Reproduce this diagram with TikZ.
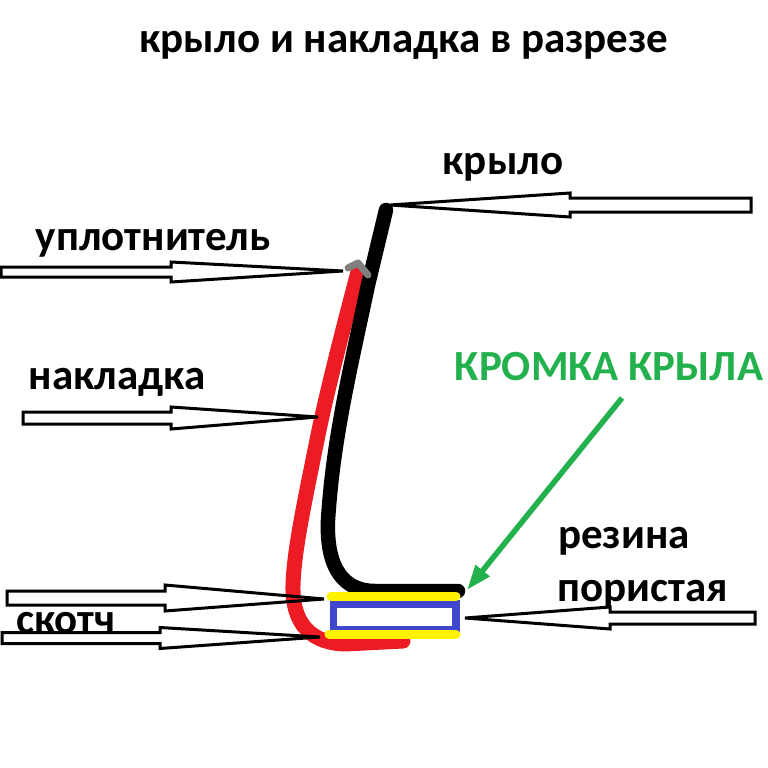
\documentclass[tikz,border=0pt]{standalone}
\usepackage{fontspec}
\setmainfont{Carlito}
\usepackage{xcolor}
\usetikzlibrary{arrows.meta}
\definecolor{wingcolor}{RGB}{0, 0, 0}
\definecolor{padcolor}{RGB}{237, 28, 36}
\definecolor{sealcolor}{RGB}{127, 127, 127}
\definecolor{tapecolor}{RGB}{255, 242, 0}
\definecolor{foamcolor}{RGB}{63, 72, 204}
\definecolor{edgecolor}{RGB}{34, 177, 76}

\begin{document}
\begin{tikzpicture}[
    x=1pt, y=-1pt,
    brush/.style={line width=#1, line cap=round, line join=round},
    label/.style={font=\bfseries\fontsize{43}{48}\selectfont, inner sep=0pt, anchor=center},
    pointer/.style={draw=black, line width=3pt, line join=miter},
]
    \useasboundingbox (0,0) rectangle (768,768);
    % Title
    \node[label] (title) at (404,45) {крыло и накладка в разрезе};
    % Part names
    \node[label] (wing) at (503,167) {крыло};
    \node[label] (seal) at (153,243) {уплотнитель};
    \node[label] (pad) at (117,382) {накладка};
    \node[label] (foam1) at (624,541) {резина};
    \node[label] (foam2) at (643,594) {пористая};
    \node[label] (tape) at (66,623) {скотч};
    \node[label, text=edgecolor] (edge) at (609,367) {КРОМКА КРЫЛА};
    % Pad and wing section
    \draw[brush=15pt, padcolor] (358,272) .. controls (340,340) and (325,400) .. (317,440)
        .. controls (305,500) and (294,550) .. (293,585)
        .. controls (292,625) and (312,643) .. (345,644) -- (403,641);
    \draw[brush=14.5pt, wingcolor] (386,210) -- (368,285) .. controls (350,370) and (333,440) .. (328,520)
        .. controls (326,570) and (345,591) .. (375,591) -- (458,591);
    \draw[brush=7pt, sealcolor] (348,268) -- (358,263) -- (368,275);
    % Foam rubber and tape
    \draw[foamcolor, line width=7.5pt] (333.5,604) rectangle (456,630);
    \draw[brush=9pt, tapecolor] (331,596) -- (456,596);
    \draw[brush=9pt, tapecolor] (329,634) -- (456,634);
    % Block arrows: tip x, base x, tail x, tip y, base y, half shaft, half head
    \foreach \tipx/\basex/\tailx/\tipy/\basey/\shaft/\head in {
        390/570/751/205/205/7/12,
        343/171/1/271/272/5/10,
        318/171/23/417/418/6/11,
        324/165/7/599/598/7/13,
        320/160/2/637/638/5.5/10.5,
        465/610/755/618/618/6/11} {
        \draw[pointer] (\tipx,\tipy) -- (\basex,\basey-\head) -- (\basex,\basey-\shaft)
            -- (\tailx,\basey-\shaft) -- (\tailx,\basey+\shaft) -- (\basex,\basey+\shaft)
            -- (\basex,\basey+\head) -- cycle;
    }
    % Edge pointer
    \coordinate (edgetail) at (622,398);
    \coordinate (edgetip) at (467,590);
    \draw[edgecolor, line width=5.5pt, -{Triangle[length=25pt, width=17pt]}] (edgetail) -- (edgetip);
\end{tikzpicture}
\end{document}
